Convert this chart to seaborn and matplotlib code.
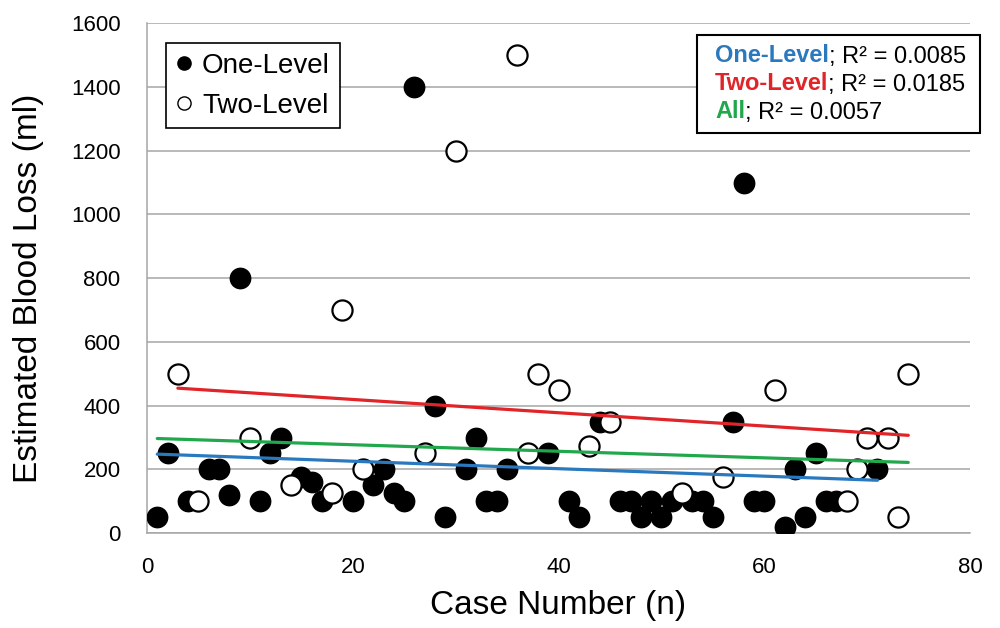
import pandas as pd
import numpy as np
import matplotlib
matplotlib.use("Agg")
import matplotlib.pyplot as plt
from matplotlib.lines import Line2D
from matplotlib.patches import Rectangle
import seaborn as sns

# --- data ---
one_case = [1, 2, 4, 6, 7, 8, 9, 11, 12, 13, 15, 16, 17, 20, 22, 23, 24, 25, 26, 28,
            29, 31, 32, 33, 34, 35, 39, 41, 42, 44, 46, 47, 48, 49, 50, 51, 53, 54, 55, 57,
            58, 59, 60, 62, 63, 64, 65, 66, 67, 71]
one_ebl = [50, 250, 100, 200, 200, 120, 800, 100, 250, 300, 175, 160, 100, 100, 150, 200, 125, 100, 1400, 400,
           50, 200, 300, 100, 100, 200, 250, 100, 50, 350, 100, 100, 50, 100, 50, 100, 100, 100, 50, 350,
           1100, 100, 100, 20, 200, 50, 250, 100, 100, 200]

two_case = [3, 5, 10, 14, 18, 19, 21, 27, 30, 36, 37, 38, 40, 43, 45, 52, 56, 61, 68, 69, 70, 72, 73, 74]
two_ebl = [500, 100, 300, 150, 125, 700, 200, 250, 1200, 1500, 250, 500, 450, 275, 350, 125, 175, 450,
           100, 200, 300, 300, 50, 500]

# trend lines (start / end)
trend_names = ["One-Level", "Two-Level", "All"]
trend_x0 = [1, 3, 1]
trend_x1 = [71, 74, 74]
trend_y0 = [248, 455, 297]
trend_y1 = [166, 307, 222]
r2_text = ["0.0085", "0.0185", "0.0057"]

colors = {"One-Level": "#2A78BE", "Two-Level": "#E02428", "All": "#22A84C"}

sns.set_style("white")
plt.rcParams["font.family"] = ["Liberation Sans", "DejaVu Sans"]
for key in ["text.color", "axes.labelcolor", "xtick.color", "ytick.color"]:
    plt.rcParams[key] = "black"

df_one = pd.DataFrame({"case": one_case, "ebl": one_ebl})
df_two = pd.DataFrame({"case": two_case, "ebl": two_ebl})
trend_df = pd.DataFrame({
    "group": trend_names * 2,
    "x": trend_x0 + trend_x1,
    "y": trend_y0 + trend_y1,
})

fig = plt.figure(figsize=(10, 6.28), dpi=100)
ax = fig.add_axes([0.147, 0.151, 0.823, 0.812])

sns.scatterplot(data=df_one, x="case", y="ebl", ax=ax, s=210, color="black",
                edgecolor="black", linewidth=1.2, zorder=3)
sns.scatterplot(data=df_two, x="case", y="ebl", ax=ax, s=210, facecolor="white",
                edgecolor="black", linewidth=1.6, zorder=3)
sns.lineplot(data=trend_df, x="x", y="y", hue="group", palette=colors, ax=ax,
             linewidth=2.3, legend=False, zorder=4)

ax.set_xlim(0, 80)
ax.set_ylim(0, 1600)
ax.set_xticks(range(0, 81, 20))
ax.set_yticks(range(0, 1601, 200))
ax.yaxis.grid(True, color="#A6A6A6", linewidth=1.1)
ax.xaxis.grid(False)
ax.set_axisbelow(True)
for s in ["top", "right"]:
    ax.spines[s].set_visible(False)
for s in ["left", "bottom"]:
    ax.spines[s].set_color("#A6A6A6")
    ax.spines[s].set_linewidth(1.1)
ax.tick_params(axis="both", length=0, labelsize=16, labelcolor="black")
ax.tick_params(axis="x", pad=17)
ax.tick_params(axis="y", pad=19)

ax.set_xlabel("Case Number (n)", fontsize=24)
ax.set_ylabel("Estimated Blood Loss (ml)", fontsize=24)
ax.xaxis.set_label_coords(0.5, -0.112)
ax.yaxis.set_label_coords(-0.125, 0.48)

# marker legend
handles = [
    Line2D([], [], marker="o", linestyle="", markersize=9.5, markerfacecolor="black",
           markeredgecolor="black"),
    Line2D([], [], marker="o", linestyle="", markersize=9.5, markerfacecolor="white",
           markeredgecolor="black", markeredgewidth=1.0),
]
leg = ax.legend(handles, ["One-Level", "Two-Level"], loc="upper left",
                bbox_to_anchor=(0.166, 0.9315), bbox_transform=fig.transFigure,
                fontsize=20, frameon=True, fancybox=False, framealpha=1,
                edgecolor="black", handlelength=0.6, handletextpad=0.35,
                borderpad=0.35, labelspacing=0.5, borderaxespad=0)
leg.get_frame().set_linewidth(1.2)

# R^2 box, drawn inside the axes so the texts sit above it
ax.add_patch(Rectangle((0.697, 1 - 133 / 628), 0.283, 98 / 628, transform=fig.transFigure,
                       facecolor="white", edgecolor="black", linewidth=1.5, zorder=10,
                       clip_on=False))
line_y = [1 - 56 / 628, 1 - 84 / 628, 1 - 112 / 628]
for name, r2, yy in zip(trend_names, r2_text, line_y):
    t1 = ax.text(0.715, yy, name, color=colors[name], fontsize=17, fontweight="bold",
                 va="center", ha="left", zorder=11, transform=fig.transFigure,
                 clip_on=False)
    ax.annotate("; R\u00b2 = " + r2, xy=(1, 0), xycoords=t1, va="bottom", ha="left",
                fontsize=17, color="black", zorder=11, annotation_clip=False)

fig.savefig("out.png", dpi=100)
